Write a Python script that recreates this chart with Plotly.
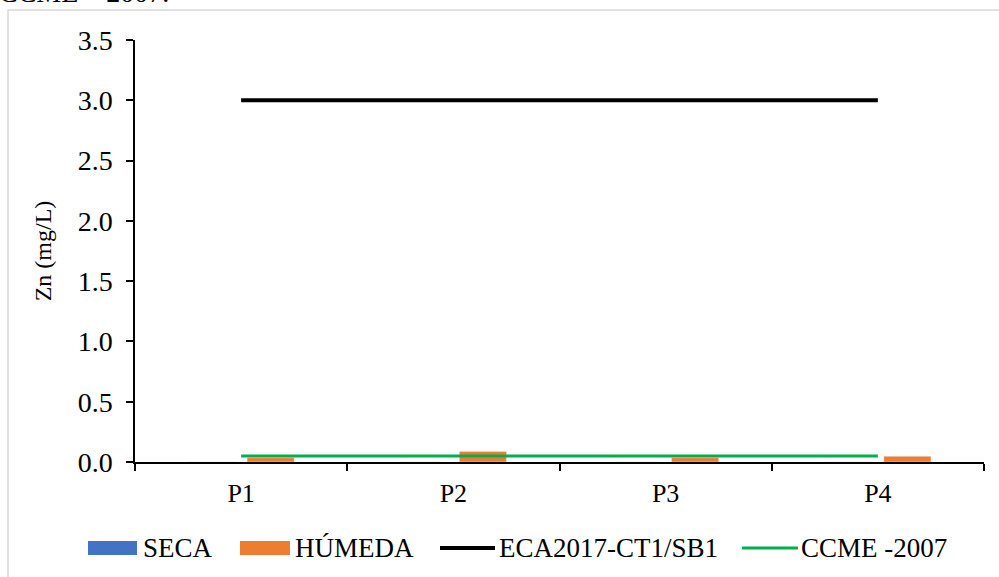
import plotly.graph_objects as go

categories = ["P1", "P2", "P3", "P4"]
seca = [0.0, 0.0, 0.0, 0.0]
humeda = [0.036, 0.088, 0.036, 0.048]
eca2017 = [3.0, 3.0, 3.0, 3.0]
ccme2007 = [0.05, 0.05, 0.05, 0.05]
y_ticks = [0.0, 0.5, 1.0, 1.5, 2.0, 2.5, 3.0, 3.5]

W, H = 999, 577
L, R = 135, 984
T, B = 40, 462
FONT = "Liberation Serif, Times New Roman, serif"
FS_TICK = 28
FS_X = 26
FS_LEG = 27
FS_TITLE = 24

def px(x):
    return (x - L) / (R - L)

def py(y):
    return (B - y) / (B - T)

fig = go.Figure()
fig.add_trace(go.Bar(x=categories, y=seca, name="SECA", marker_color="#4472C4",
                     width=0.222, offset=-0.25, showlegend=False))
fig.add_trace(go.Bar(x=categories, y=humeda, name="HÚMEDA", marker_color="#ED7D31",
                     width=0.222, offset=0.028, showlegend=False))
fig.add_trace(go.Scatter(x=categories, y=eca2017, name="ECA2017-CT1/SB1", mode="lines",
                         line=dict(color="#000000", width=4), showlegend=False))
fig.add_trace(go.Scatter(x=categories, y=ccme2007, name="CCME -2007", mode="lines",
                         line=dict(color="#00B050", width=3), showlegend=False))

shapes = []
annotations = []
# outer chart border (cropped)
shapes.append(dict(type="rect", xref="paper", yref="paper",
                   x0=px(8), x1=px(1010), y0=py(590), y1=py(10),
                   line=dict(color="#D9D9D9", width=1.5), fillcolor="rgba(0,0,0,0)", layer="below"))
# cropped caption above chart
annotations.append(dict(text="CCME – 2007.", xref="paper", yref="paper",
                        x=px(-3), y=py(10), xanchor="left", yanchor="bottom",
                        showarrow=False, font=dict(family=FONT, size=28, color="#000")))

# custom legend
ly = 548
legend_items = [
    ("SECA", "rect", "#4472C4", 88, 137, 141),
    ("HÚMEDA", "rect", "#ED7D31", 240, 290, 293),
    ("ECA2017-CT1/SB1", "line", "#000000", 440, 495, 497),
    ("CCME -2007", "line", "#00B050", 742, 798, 799),
]
for name, kind, color, x0, x1, tx in legend_items:
    if kind == "rect":
        shapes.append(dict(type="rect", xref="paper", yref="paper",
                           x0=px(x0), x1=px(x1), y0=py(ly + 7), y1=py(ly - 7),
                           line=dict(width=0), fillcolor=color))
    else:
        shapes.append(dict(type="line", xref="paper", yref="paper",
                           x0=px(x0), x1=px(x1), y0=py(ly), y1=py(ly),
                           line=dict(color=color, width=4 if color == "#000000" else 3)))
    annotations.append(dict(text=name, xref="paper", yref="paper", x=px(tx), y=py(ly),
                            xanchor="left", yanchor="middle", showarrow=False,
                            font=dict(family=FONT, size=FS_LEG, color="#000")))

fig.update_layout(
    width=W, height=H,
    margin=dict(l=L, r=W - R, t=T, b=H - B),
    paper_bgcolor="white", plot_bgcolor="white",
    font=dict(family=FONT, size=FS_TICK, color="#000"),
    barmode="overlay",
    showlegend=False,
    shapes=shapes,
    annotations=annotations,
    xaxis=dict(type="category", showline=True, linecolor="#000", linewidth=2,
               ticks="outside", tickson="boundaries", ticklen=7, tickcolor="#000",
               tickwidth=1.5, ticklabelstandoff=7, showgrid=False, zeroline=False,
               tickfont=dict(family=FONT, size=FS_X), range=[-0.5, 3.5]),
    yaxis=dict(range=[0, 3.5], tickvals=y_ticks, tickformat=".1f", showline=True,
               linecolor="#000", linewidth=1.5, ticks="outside", ticklen=7,
               tickcolor="#000", tickwidth=1.5, ticklabelstandoff=8, showgrid=False,
               zeroline=False, tickfont=dict(family=FONT, size=FS_TICK),
               title=dict(text="Zn (mg/L)", standoff=19, font=dict(family=FONT, size=FS_TITLE))),
)

fig.write_html("out.html")
